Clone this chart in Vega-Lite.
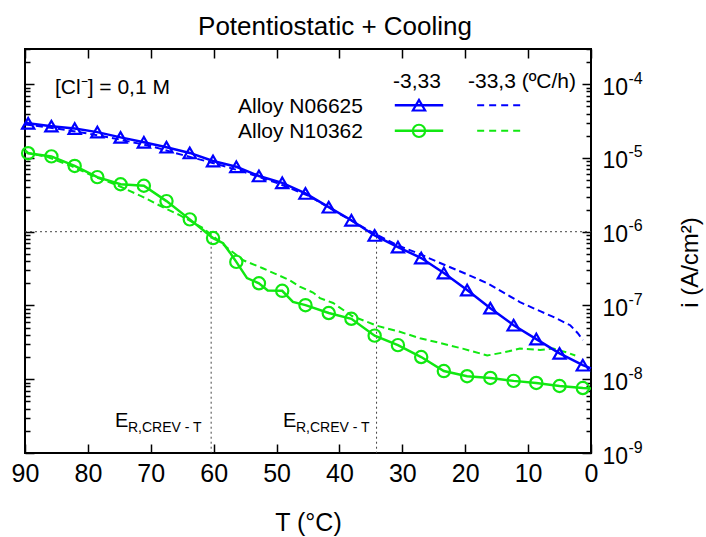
{
  "$schema": "https://vega.github.io/schema/vega-lite/v6.json",
  "width": 566,
  "height": 404,
  "autosize": {"type": "none"},
  "padding": {"left": 25, "top": 49, "right": 115, "bottom": 84},
  "background": "white",
  "title": {"text": "Potentiostatic + Cooling", "fontSize": 26, "font": "Liberation Sans", "fontWeight": "normal", "color": "black", "frame": "group", "anchor": "middle", "baseline": "alphabetic", "offset": 17, "dx": 27, "dy": 30},
  "config": {
    "view": {"stroke": "black", "strokeWidth": 2},
    "axis": {"grid": false, "domain": false, "labelFont": "Liberation Sans", "titleFont": "Liberation Sans", "labelColor": "black", "titleColor": "black", "tickColor": "black", "titleFontWeight": "normal", "labelOverlap": false, "labelFlush": false}
  },
  "datasets": {
    "solid": [
      {"alloy": "N06625", "T": 90, "i": 3.05e-5, "m": false},
      {"alloy": "N06625", "T": 89.5, "i": 2.95e-5, "m": true},
      {"alloy": "N06625", "T": 85.8, "i": 2.7e-5, "m": true},
      {"alloy": "N06625", "T": 82.1, "i": 2.5e-5, "m": true},
      {"alloy": "N06625", "T": 78.5, "i": 2.24e-5, "m": true},
      {"alloy": "N06625", "T": 74.8, "i": 1.9e-5, "m": true},
      {"alloy": "N06625", "T": 71.1, "i": 1.63e-5, "m": true},
      {"alloy": "N06625", "T": 67.5, "i": 1.4e-5, "m": true},
      {"alloy": "N06625", "T": 63.8, "i": 1.17e-5, "m": true},
      {"alloy": "N06625", "T": 60.1, "i": 9.1e-6, "m": true},
      {"alloy": "N06625", "T": 56.4, "i": 7.6e-6, "m": true},
      {"alloy": "N06625", "T": 52.8, "i": 5.7e-6, "m": true},
      {"alloy": "N06625", "T": 49.1, "i": 4.6e-6, "m": true},
      {"alloy": "N06625", "T": 45.4, "i": 3.3e-6, "m": true},
      {"alloy": "N06625", "T": 41.7, "i": 2.15e-6, "m": true},
      {"alloy": "N06625", "T": 38.1, "i": 1.43e-6, "m": true},
      {"alloy": "N06625", "T": 34.4, "i": 8.9e-7, "m": true},
      {"alloy": "N06625", "T": 30.7, "i": 6.2e-7, "m": true},
      {"alloy": "N06625", "T": 27.0, "i": 4.4e-7, "m": true},
      {"alloy": "N06625", "T": 23.4, "i": 2.75e-7, "m": true},
      {"alloy": "N06625", "T": 19.7, "i": 1.62e-7, "m": true},
      {"alloy": "N06625", "T": 16.0, "i": 9.2e-8, "m": true},
      {"alloy": "N06625", "T": 12.3, "i": 5.4e-8, "m": true},
      {"alloy": "N06625", "T": 8.7, "i": 3.5e-8, "m": true},
      {"alloy": "N06625", "T": 5.0, "i": 2.24e-8, "m": true},
      {"alloy": "N06625", "T": 1.3, "i": 1.55e-8, "m": true},
      {"alloy": "N06625", "T": 0, "i": 1.4e-8, "m": false},
      {"alloy": "N10362", "T": 90, "i": 1.28e-5, "m": false},
      {"alloy": "N10362", "T": 89.5, "i": 1.16e-5, "m": true},
      {"alloy": "N10362", "T": 85.8, "i": 1.05e-5, "m": true},
      {"alloy": "N10362", "T": 82.1, "i": 7.8e-6, "m": true},
      {"alloy": "N10362", "T": 78.5, "i": 5.5e-6, "m": true},
      {"alloy": "N10362", "T": 74.8, "i": 4.4e-6, "m": true},
      {"alloy": "N10362", "T": 71.1, "i": 4.2e-6, "m": true},
      {"alloy": "N10362", "T": 67.5, "i": 2.6e-6, "m": true},
      {"alloy": "N10362", "T": 63.8, "i": 1.47e-6, "m": true},
      {"alloy": "N10362", "T": 60.1, "i": 8.2e-7, "m": true},
      {"alloy": "N10362", "T": 58.5, "i": 7.0e-7, "m": false},
      {"alloy": "N10362", "T": 57.4, "i": 5.2e-7, "m": false},
      {"alloy": "N10362", "T": 56.4, "i": 3.9e-7, "m": true},
      {"alloy": "N10362", "T": 54.7, "i": 2.35e-7, "m": false},
      {"alloy": "N10362", "T": 52.8, "i": 2.0e-7, "m": true},
      {"alloy": "N10362", "T": 51.4, "i": 1.6e-7, "m": false},
      {"alloy": "N10362", "T": 49.1, "i": 1.58e-7, "m": true},
      {"alloy": "N10362", "T": 47.4, "i": 1.12e-7, "m": false},
      {"alloy": "N10362", "T": 45.4, "i": 1.01e-7, "m": true},
      {"alloy": "N10362", "T": 41.7, "i": 7.9e-8, "m": true},
      {"alloy": "N10362", "T": 38.1, "i": 6.6e-8, "m": true},
      {"alloy": "N10362", "T": 34.4, "i": 3.9e-8, "m": true},
      {"alloy": "N10362", "T": 30.7, "i": 2.9e-8, "m": true},
      {"alloy": "N10362", "T": 27.0, "i": 2.0e-8, "m": true},
      {"alloy": "N10362", "T": 23.4, "i": 1.29e-8, "m": true},
      {"alloy": "N10362", "T": 19.7, "i": 1.10e-8, "m": true},
      {"alloy": "N10362", "T": 16.0, "i": 1.04e-8, "m": true},
      {"alloy": "N10362", "T": 12.3, "i": 9.5e-9, "m": true},
      {"alloy": "N10362", "T": 8.7, "i": 8.9e-9, "m": true},
      {"alloy": "N10362", "T": 5.0, "i": 8.1e-9, "m": true},
      {"alloy": "N10362", "T": 1.3, "i": 7.6e-9, "m": true},
      {"alloy": "N10362", "T": 0, "i": 7.5e-9, "m": false}
    ],
    "dashed": [
      {"alloy": "N06625", "T": 90, "i": 2.85e-5},
      {"alloy": "N06625", "T": 85, "i": 2.5e-5},
      {"alloy": "N06625", "T": 80, "i": 2.15e-5},
      {"alloy": "N06625", "T": 75, "i": 1.78e-5},
      {"alloy": "N06625", "T": 70, "i": 1.45e-5},
      {"alloy": "N06625", "T": 65, "i": 1.1e-5},
      {"alloy": "N06625", "T": 60, "i": 8.5e-6},
      {"alloy": "N06625", "T": 55, "i": 6.4e-6},
      {"alloy": "N06625", "T": 50, "i": 4.6e-6},
      {"alloy": "N06625", "T": 45, "i": 3.1e-6},
      {"alloy": "N06625", "T": 40, "i": 1.75e-6},
      {"alloy": "N06625", "T": 37, "i": 1.25e-6},
      {"alloy": "N06625", "T": 34.4, "i": 9.4e-7},
      {"alloy": "N06625", "T": 30.5, "i": 6.4e-7},
      {"alloy": "N06625", "T": 27, "i": 4.9e-7},
      {"alloy": "N06625", "T": 26.1, "i": 4.5e-7},
      {"alloy": "N06625", "T": 22.4, "i": 3.3e-7},
      {"alloy": "N06625", "T": 19.5, "i": 2.6e-7},
      {"alloy": "N06625", "T": 16.5, "i": 2.0e-7},
      {"alloy": "N06625", "T": 11.3, "i": 1.11e-7},
      {"alloy": "N06625", "T": 8, "i": 8.3e-8},
      {"alloy": "N06625", "T": 6, "i": 7.0e-8},
      {"alloy": "N06625", "T": 3.3, "i": 5.4e-8},
      {"alloy": "N06625", "T": 2.1, "i": 4.2e-8},
      {"alloy": "N06625", "T": 1.3, "i": 3.4e-8},
      {"alloy": "N10362", "T": 90, "i": 1.2e-5},
      {"alloy": "N10362", "T": 86.3, "i": 1.02e-5},
      {"alloy": "N10362", "T": 82.7, "i": 7.8e-6},
      {"alloy": "N10362", "T": 79, "i": 5.6e-6},
      {"alloy": "N10362", "T": 75.4, "i": 4.3e-6},
      {"alloy": "N10362", "T": 71.2, "i": 2.95e-6},
      {"alloy": "N10362", "T": 68.1, "i": 2.15e-6},
      {"alloy": "N10362", "T": 65.4, "i": 1.68e-6},
      {"alloy": "N10362", "T": 61.7, "i": 1.12e-6},
      {"alloy": "N10362", "T": 60, "i": 8.6e-7},
      {"alloy": "N10362", "T": 58, "i": 6.2e-7},
      {"alloy": "N10362", "T": 55.3, "i": 4.1e-7},
      {"alloy": "N10362", "T": 52.2, "i": 3.2e-7},
      {"alloy": "N10362", "T": 47.9, "i": 2.2e-7},
      {"alloy": "N10362", "T": 46.3, "i": 1.8e-7},
      {"alloy": "N10362", "T": 44.2, "i": 1.5e-7},
      {"alloy": "N10362", "T": 43.1, "i": 1.26e-7},
      {"alloy": "N10362", "T": 41, "i": 1.08e-7},
      {"alloy": "N10362", "T": 38, "i": 7.2e-8},
      {"alloy": "N10362", "T": 34, "i": 5.3e-8},
      {"alloy": "N10362", "T": 30.4, "i": 4.4e-8},
      {"alloy": "N10362", "T": 27.2, "i": 3.6e-8},
      {"alloy": "N10362", "T": 24, "i": 3.1e-8},
      {"alloy": "N10362", "T": 20.4, "i": 2.6e-8},
      {"alloy": "N10362", "T": 16.5, "i": 2.1e-8},
      {"alloy": "N10362", "T": 14, "i": 2.3e-8},
      {"alloy": "N10362", "T": 11.3, "i": 2.6e-8},
      {"alloy": "N10362", "T": 8.1, "i": 2.5e-8},
      {"alloy": "N10362", "T": 6, "i": 2.6e-8},
      {"alloy": "N10362", "T": 3.8, "i": 2.3e-8},
      {"alloy": "N10362", "T": 2.5, "i": 2.1e-8}
    ],
    "refs": [
      {"T": 90, "T2": 0, "i": 1e-6, "i2": 1e-6},
      {"T": 60.4, "T2": 60.4, "i": 1e-6, "i2": 1e-9},
      {"T": 34.1, "T2": 34.1, "i": 1e-6, "i2": 1e-9}
    ],
    "legendLines": [
      {"alloy": "N06625", "rate": "-3,33", "T": 31.2, "i": 5.19e-5},
      {"alloy": "N06625", "rate": "-3,33", "T": 23.5, "i": 5.19e-5},
      {"alloy": "N10362", "rate": "-3,33", "T": 31.2, "i": 2.33e-5},
      {"alloy": "N10362", "rate": "-3,33", "T": 23.5, "i": 2.33e-5},
      {"alloy": "N06625", "rate": "-33,3", "T": 18.1, "i": 5.19e-5},
      {"alloy": "N06625", "rate": "-33,3", "T": 10.8, "i": 5.19e-5},
      {"alloy": "N10362", "rate": "-33,3", "T": 18.1, "i": 2.33e-5},
      {"alloy": "N10362", "rate": "-33,3", "T": 10.8, "i": 2.33e-5}
    ],
    "legendMarks": [
      {"alloy": "N06625", "T": 27.35, "i": 5.19e-5},
      {"alloy": "N10362", "T": 27.35, "i": 2.33e-5}
    ],
    "texts": [
      {"role": "note", "label": "[Cl⁻] = 0,1 M", "T": 85.23, "i": 7.32e-5},
      {"role": "note", "label": "Alloy N06625", "T": 56.13, "i": 4.05e-5},
      {"role": "note", "label": "Alloy N10362", "T": 56.13, "i": 1.85e-5},
      {"role": "note", "label": "-3,33", "T": 31.49, "i": 8.83e-5},
      {"role": "note", "label": "-33,3 (ºC/h)", "T": 19.56, "i": 8.83e-5},
      {"role": "E", "label": "E", "T": 75.69, "i": 2.25e-9},
      {"role": "E", "label": "E", "T": 48.98, "i": 2.25e-9},
      {"role": "sub", "label": "R,CREV - T", "T": 73.62, "i": 1.93e-9},
      {"role": "sub", "label": "R,CREV - T", "T": 46.91, "i": 1.93e-9}
    ]
  },
  "layer": [
    {
      "data": {"name": "refs"},
      "mark": {"type": "rule", "color": "#444444", "strokeWidth": 1, "strokeDash": [2, 3]},
      "encoding": {
        "x": {"field": "T", "type": "quantitative", "scale": {"domain": [0, 90], "reverse": true, "nice": false, "zero": false},
          "axis": {"orient": "top", "offset": -404, "values": [0, 10, 20, 30, 40, 50, 60, 70, 80, 90], "labels": false, "ticks": true, "tickSize": 9, "tickWidth": 1.5, "title": null}},
        "x2": {"field": "T2"},
        "y": {"field": "i", "type": "quantitative", "scale": {"type": "log", "domain": [1e-9, 3e-4], "nice": false},
          "axis": {"orient": "left", "offset": -566, "labels": false, "ticks": true, "tickWidth": 1.5, "title": null,
            "values": [1e-9, 2e-9, 3e-9, 4e-9, 5e-9, 6e-9, 7e-9, 8e-9, 9e-9, 1e-8, 2e-8, 3e-8, 4e-8, 5e-8, 6e-8, 7e-8, 8e-8, 9e-8, 1e-7, 2e-7, 3e-7, 4e-7, 5e-7, 6e-7, 7e-7, 8e-7, 9e-7, 1e-6, 2e-6, 3e-6, 4e-6, 5e-6, 6e-6, 7e-6, 8e-6, 9e-6, 1e-5, 2e-5, 3e-5, 4e-5, 5e-5, 6e-5, 7e-5, 8e-5, 9e-5, 1e-4, 2e-4, 3e-4],
            "tickSize": {"condition": {"test": "abs(log(datum.value)/LN10 - round(log(datum.value)/LN10)) < 0.01", "value": 9}, "value": 5}}},
        "y2": {"field": "i2"}
      }
    },
    {
      "data": {"name": "dashed"},
      "mark": {"type": "line", "strokeWidth": 2, "strokeDash": [7, 4]},
      "encoding": {
        "x": {"field": "T", "type": "quantitative", "scale": {"domain": [0, 90], "reverse": true, "nice": false, "zero": false},
          "axis": {"orient": "bottom", "offset": -404, "values": [0, 10, 20, 30, 40, 50, 60, 70, 80, 90], "labels": false, "ticks": true, "tickSize": 9, "tickWidth": 1.5, "title": null}},
        "y": {"field": "i", "type": "quantitative", "scale": {"type": "log", "domain": [1e-9, 3e-4], "nice": false},
          "axis": {"orient": "right", "values": [1e-9, 1e-8, 1e-7, 1e-6, 1e-5, 1e-4], "ticks": false, "tickSize": 0, "labelExpr": "'' + round(log(datum.value)/LN10)", "labelFontSize": 16, "labelPadding": 37, "labelAlign": "left", "labelBaseline": "alphabetic", "labelOffset": -1, "title": null}},
        "color": {"field": "alloy", "type": "nominal", "scale": {"domain": ["N06625", "N10362"], "range": ["#0000ff", "#11e811"]}, "legend": null}
      }
    },
    {
      "data": {"name": "solid"},
      "mark": {"type": "line", "strokeWidth": 2.5},
      "encoding": {
        "x": {"field": "T", "type": "quantitative", "scale": {"domain": [0, 90], "reverse": true, "nice": false, "zero": false},
          "axis": {"orient": "bottom", "values": [0, 10, 20, 30, 40, 50, 60, 70, 80, 90], "ticks": false, "tickSize": 0, "labelFontSize": 25, "labelPadding": 8, "title": "T (°C)", "titleFontSize": 25, "titleX": 283, "titleY": 77, "titleAlign": "center", "titleBaseline": "alphabetic"}},
        "y": {"field": "i", "type": "quantitative", "scale": {"type": "log", "domain": [1e-9, 3e-4], "nice": false},
          "axis": {"orient": "right", "values": [1e-9, 1e-8, 1e-7, 1e-6, 1e-5, 1e-4], "ticks": false, "tickSize": 0, "labelExpr": "'10'", "labelFontSize": 23, "labelPadding": 11, "labelAlign": "left", "labelBaseline": "alphabetic", "labelOffset": 10,
            "title": "i (A/cm²)", "titleFontSize": 24, "titleAngle": 270, "titleX": 99, "titleY": 213, "titleAlign": "center", "titleBaseline": "middle"}},
        "color": {"field": "alloy", "type": "nominal", "scale": {"domain": ["N06625", "N10362"], "range": ["#0000ff", "#11e811"]}, "legend": null}
      }
    },
    {
      "data": {"name": "solid"},
      "transform": [{"filter": "datum.m"}],
      "mark": {"type": "point", "filled": false, "strokeWidth": 2.2, "size": 150, "opacity": 1},
      "encoding": {
        "x": {"field": "T", "type": "quantitative", "scale": {"domain": [0, 90], "reverse": true, "nice": false, "zero": false}, "axis": null},
        "y": {"field": "i", "type": "quantitative", "scale": {"type": "log", "domain": [1e-9, 3e-4], "nice": false},
          "axis": {"orient": "right", "offset": -566, "labels": false, "ticks": true, "tickWidth": 1.5, "title": null,
            "values": [1e-9, 2e-9, 3e-9, 4e-9, 5e-9, 6e-9, 7e-9, 8e-9, 9e-9, 1e-8, 2e-8, 3e-8, 4e-8, 5e-8, 6e-8, 7e-8, 8e-8, 9e-8, 1e-7, 2e-7, 3e-7, 4e-7, 5e-7, 6e-7, 7e-7, 8e-7, 9e-7, 1e-6, 2e-6, 3e-6, 4e-6, 5e-6, 6e-6, 7e-6, 8e-6, 9e-6, 1e-5, 2e-5, 3e-5, 4e-5, 5e-5, 6e-5, 7e-5, 8e-5, 9e-5, 1e-4, 2e-4, 3e-4],
            "tickSize": {"condition": {"test": "abs(log(datum.value)/LN10 - round(log(datum.value)/LN10)) < 0.01", "value": 9}, "value": 5}}},
        "color": {"field": "alloy", "type": "nominal", "scale": {"domain": ["N06625", "N10362"], "range": ["#0000ff", "#11e811"]}, "legend": null},
        "shape": {"field": "alloy", "type": "nominal", "scale": {"domain": ["N06625", "N10362"], "range": ["triangle-up", "circle"]}, "legend": null}
      }
    },
    {
      "data": {"name": "legendLines"},
      "transform": [{"filter": "datum.rate == '-3,33'"}],
      "mark": {"type": "line", "strokeWidth": 2.5},
      "encoding": {
        "x": {"field": "T", "type": "quantitative", "scale": {"domain": [0, 90], "reverse": true, "nice": false, "zero": false}, "axis": null},
        "y": {"field": "i", "type": "quantitative", "scale": {"type": "log", "domain": [1e-9, 3e-4], "nice": false}, "axis": null},
        "color": {"field": "alloy", "type": "nominal", "scale": {"domain": ["N06625", "N10362"], "range": ["#0000ff", "#11e811"]}, "legend": null}
      }
    },
    {
      "data": {"name": "legendLines"},
      "transform": [{"filter": "datum.rate == '-33,3'"}],
      "mark": {"type": "line", "strokeWidth": 2, "strokeDash": [7, 5]},
      "encoding": {
        "x": {"field": "T", "type": "quantitative", "scale": {"domain": [0, 90], "reverse": true, "nice": false, "zero": false}, "axis": null},
        "y": {"field": "i", "type": "quantitative", "scale": {"type": "log", "domain": [1e-9, 3e-4], "nice": false}, "axis": null},
        "color": {"field": "alloy", "type": "nominal", "scale": {"domain": ["N06625", "N10362"], "range": ["#0000ff", "#11e811"]}, "legend": null}
      }
    },
    {
      "data": {"name": "legendMarks"},
      "mark": {"type": "point", "filled": false, "strokeWidth": 2.2, "size": 150, "opacity": 1},
      "encoding": {
        "x": {"field": "T", "type": "quantitative", "scale": {"domain": [0, 90], "reverse": true, "nice": false, "zero": false}, "axis": null},
        "y": {"field": "i", "type": "quantitative", "scale": {"type": "log", "domain": [1e-9, 3e-4], "nice": false}, "axis": null},
        "color": {"field": "alloy", "type": "nominal", "scale": {"domain": ["N06625", "N10362"], "range": ["#0000ff", "#11e811"]}, "legend": null},
        "shape": {"field": "alloy", "type": "nominal", "scale": {"domain": ["N06625", "N10362"], "range": ["triangle-up", "circle"]}, "legend": null}
      }
    },
    {
      "data": {"name": "texts"},
      "transform": [{"filter": "datum.role == 'note'"}],
      "mark": {"type": "text", "align": "left", "baseline": "alphabetic", "font": "Liberation Sans", "fontSize": 21, "color": "black"},
      "encoding": {
        "x": {"field": "T", "type": "quantitative", "scale": {"domain": [0, 90], "reverse": true, "nice": false, "zero": false}, "axis": null},
        "y": {"field": "i", "type": "quantitative", "scale": {"type": "log", "domain": [1e-9, 3e-4], "nice": false}, "axis": null},
        "text": {"field": "label", "type": "nominal"}
      }
    },
    {
      "data": {"name": "texts"},
      "transform": [{"filter": "datum.role == 'E'"}],
      "mark": {"type": "text", "align": "left", "baseline": "alphabetic", "font": "Liberation Sans", "fontSize": 20, "color": "black"},
      "encoding": {
        "x": {"field": "T", "type": "quantitative", "scale": {"domain": [0, 90], "reverse": true, "nice": false, "zero": false}, "axis": null},
        "y": {"field": "i", "type": "quantitative", "scale": {"type": "log", "domain": [1e-9, 3e-4], "nice": false}, "axis": null},
        "text": {"field": "label", "type": "nominal"}
      }
    },
    {
      "data": {"name": "texts"},
      "transform": [{"filter": "datum.role == 'sub'"}],
      "mark": {"type": "text", "align": "left", "baseline": "alphabetic", "font": "Liberation Sans", "fontSize": 14, "color": "black"},
      "encoding": {
        "x": {"field": "T", "type": "quantitative", "scale": {"domain": [0, 90], "reverse": true, "nice": false, "zero": false}, "axis": null},
        "y": {"field": "i", "type": "quantitative", "scale": {"type": "log", "domain": [1e-9, 3e-4], "nice": false}, "axis": null},
        "text": {"field": "label", "type": "nominal"}
      }
    }
  ],
  "resolve": {"axis": {"x": "independent", "y": "independent"}}
}
